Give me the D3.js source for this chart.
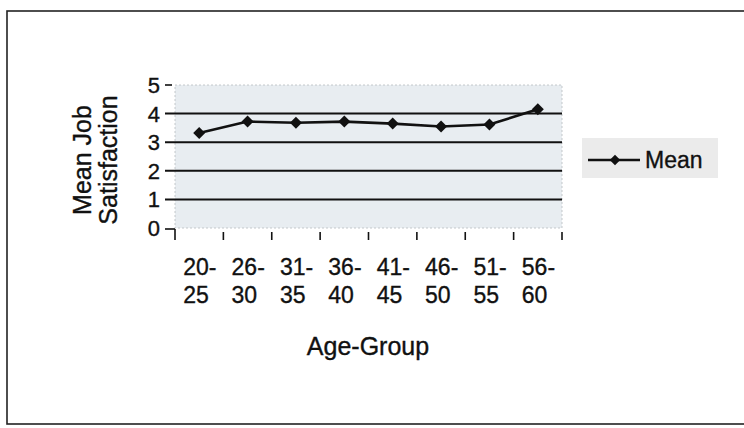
<!DOCTYPE html>
<html><head><meta charset="utf-8">
<script src="https://cdn.jsdelivr.net/npm/d3@7"></script>
<style>
html,body{margin:0;padding:0;background:#fff;}
svg{display:block;font-family:Arial,"Liberation Sans",sans-serif;}
svg text{stroke:#111;stroke-width:0.35px;}
</style></head>
<body><svg id="c" width="744" height="428"></svg>
<script>
const categories = ["20-25","26-30","31-35","36-40","41-45","46-50","51-55","56-60"];
const meanValues = [3.32, 3.72, 3.68, 3.72, 3.65, 3.55, 3.62, 4.15];
const yTicks = [0,1,2,3,4,5];
const seriesName = "Mean";
const xTitle = "Age-Group";
const yTitleLines = ["Mean Job","Satisfaction"];

const svg = d3.select("#c");
// outer frame
svg.append("rect").attr("x",7).attr("y",11).attr("width",760).attr("height",413)
  .attr("fill","#fff").attr("stroke","#222").attr("stroke-width",1.6);

const plot = {l:175, r:562, t:85, b:228};
const x = d3.scaleBand().domain(categories).range([plot.l, plot.r]);
const y = d3.scaleLinear().domain([0,5]).range([plot.b, plot.t]);

// plot area background
svg.append("rect").attr("x",plot.l).attr("y",plot.t).attr("width",plot.r-plot.l).attr("height",plot.b-plot.t)
  .attr("fill","#e8edf1").attr("stroke","#b8bcc0").attr("stroke-width",0.8).attr("stroke-dasharray","2,2");

// gridlines (1..4) extending to tick start
svg.append("g").selectAll("line").data(yTicks.filter(d=>d>0 && d<5)).join("line")
  .attr("x1",165).attr("x2",plot.r).attr("y1",d=>y(d)).attr("y2",d=>y(d))
  .attr("stroke","#111").attr("stroke-width",2);
// y ticks at 0 and 5
svg.append("g").selectAll("line").data([0,5]).join("line")
  .attr("x1",165).attr("x2",d=>d===0?plot.l:172).attr("y1",d=>y(d)+(d===0?1:0)).attr("y2",d=>y(d)+(d===0?1:0))
  .attr("stroke","#111").attr("stroke-width",1.6);
// y tick labels
svg.append("g").selectAll("text").data(yTicks).join("text")
  .attr("x",160).attr("y",d=>y(d)).attr("dy","0.36em").attr("text-anchor","end")
  .attr("font-size",22).attr("fill","#111").text(d=>d);

// x ticks at category boundaries
const bounds = categories.map(c=>x(c)).concat([plot.r]);
svg.append("g").selectAll("line").data(bounds).join("line")
  .attr("x1",d=>d).attr("x2",d=>d).attr("y1",(d,i)=>i===0?y(0)+1:y(0)+4).attr("y2",y(0)+12)
  .attr("stroke","#111").attr("stroke-width",1.6);
// x tick labels (two lines)
const xl = svg.append("g").selectAll("text").data(categories).join("text")
  .attr("font-size",23).attr("fill","#111").attr("text-anchor","start");
xl.each(function(c){
  const parts = c.split("-");
  const cx = x(c)+x.bandwidth()/2 - 16;
  const t = d3.select(this);
  t.append("tspan").attr("x",cx).attr("y",275).text(parts[0]+"-");
  t.append("tspan").attr("x",cx).attr("y",303).text(parts[1]);
});

// axis titles
svg.append("text").attr("x",368).attr("y",355).attr("text-anchor","middle")
  .attr("font-size",25).attr("fill","#111").text(xTitle);
svg.append("g").selectAll("text").data(yTitleLines).join("text")
  .attr("transform",(d,i)=>`translate(${i===0?91:117},160) rotate(-90)`)
  .attr("text-anchor","middle").attr("font-size",25).attr("fill","#111").text(d=>d);

// series line
const cxp = c=>x(c)+x.bandwidth()/2;
const line = d3.line().x((d,i)=>cxp(categories[i])).y(d=>y(d));
svg.append("path").datum(meanValues).attr("d",line).attr("fill","none")
  .attr("stroke","#111").attr("stroke-width",2.6);
const marker = d3.symbol().type(d3.symbolSquare).size(72);
svg.append("g").selectAll("path").data(meanValues).join("path")
  .attr("d",marker).attr("transform",(d,i)=>`translate(${cxp(categories[i])},${y(d)}) rotate(45)`)
  .attr("fill","#111");

// legend
const lg = svg.append("g");
lg.append("rect").attr("x",582).attr("y",138).attr("width",136).attr("height",40).attr("fill","#ebebeb");
lg.append("line").attr("x1",588).attr("x2",640).attr("y1",160).attr("y2",160).attr("stroke","#111").attr("stroke-width",2.6);
lg.append("path").attr("d",d3.symbol().type(d3.symbolSquare).size(56)).attr("transform","translate(615,160) rotate(45)").attr("fill","#111");
lg.append("text").attr("x",645).attr("y",168).attr("font-size",23).attr("fill","#111").text(seriesName);
</script></body></html>
